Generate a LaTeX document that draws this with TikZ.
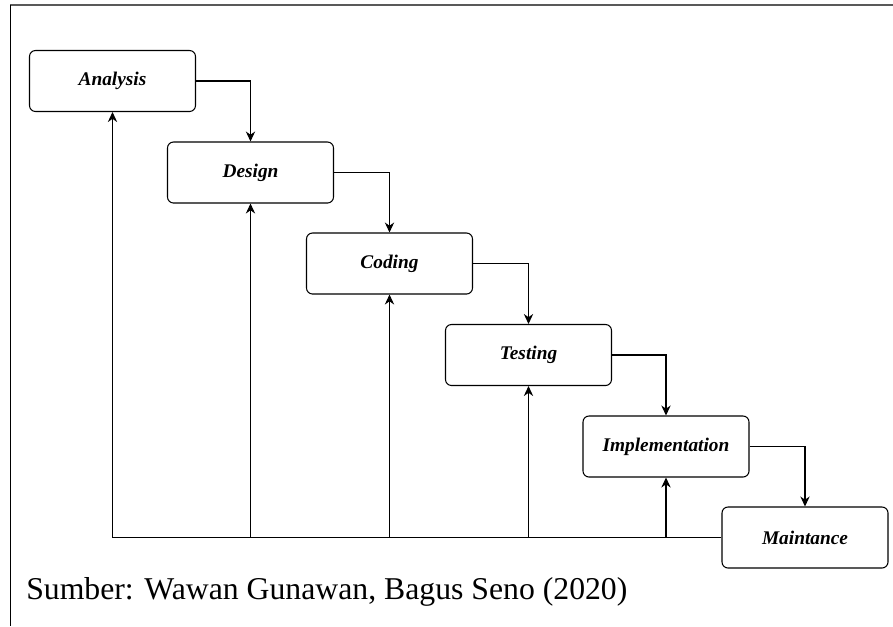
\documentclass[tikz,border=0pt]{standalone}
\usepackage{fontspec}
\setmainfont{Liberation Serif}
\usetikzlibrary{arrows.meta}
\begin{document}
\begin{tikzpicture}[x=0.75pt,y=-0.75pt,
  phase/.style={draw, line width=0.8pt, rounded corners=4.5pt,
    minimum width=124.5pt, minimum height=45.75pt, inner sep=0pt,
    font=\fontsize{14.5}{17}\selectfont\bfseries\itshape},
  arr/.style={-{Stealth[length=7.5pt,width=7pt]}, line width=0.8pt},
  link/.style={line width=0.8pt}]
\useasboundingbox (0,0) rectangle (893,626);
% frame
\coordinate (f1) at (10,5);
\coordinate (f2) at (893,5);
\coordinate (f3) at (10,626);
\draw[line width=1.5pt, black!65] (f1) -- (f2);
\draw[line width=0.75pt] (f1) -- (f3);
% phases
\node[phase] (A) at (112.5,81) {Analysis};
\node[phase] (D) at (250.5,172.5) {Design};
\node[phase] (C) at (389.5,263.5) {Coding};
\node[phase] (T) at (528.5,355) {Testing};
\node[phase] (I) at (666,446.5) {Implementation};
\node[phase] (M) at (805,537.5) {Maintance};
% forward flow
\draw[arr] (A.east) -| (D.north);
\draw[arr] (D.east) -| (C.north);
\draw[arr] (C.east) -| (T.north);
\draw[arr] (T.east) -| (I.north);
\draw[arr] (I.east) -| (M.north);
% feedback
\draw[link] (M.west) -- (A.south |- M.west);
\draw[arr] (A.south |- M.west) -- (A.south);
\draw[arr] (D.south |- M.west) -- (D.south);
\draw[arr] (C.south |- M.west) -- (C.south);
\draw[arr] (T.south |- M.west) -- (T.south);
\draw[arr] (I.south |- M.west) -- (I.south);
% caption
\node[anchor=base west, inner sep=0pt, font=\fontsize{23.8}{28}\selectfont] (cap) at (26,599) {Sumber: Wawan Gunawan, Bagus Seno (2020)};
\end{tikzpicture}
\end{document}
